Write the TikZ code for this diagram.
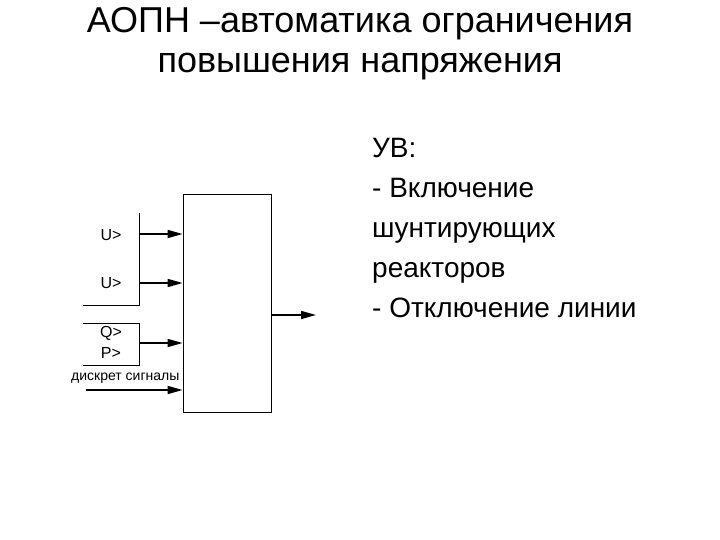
\documentclass[tikz,border=0pt]{standalone}
\usepackage{fontspec}
\setmainfont{Liberation Sans}
\usetikzlibrary{arrows.meta, positioning}

\begin{document}
\begin{tikzpicture}[x=1pt, y=-1pt]
\tikzstyle{sig} = [draw, line width=1.6pt, -{Triangle[length=15pt,width=8pt]}]
\tikzstyle{tiny} = [inner sep=0pt, font=\fontsize{16}{16}\selectfont]
\tikzstyle{big} = [inner sep=0pt, align=left, font=\fontsize{28}{40}\selectfont]
\useasboundingbox (0,0) rectangle (720,540);

\node [big, align=center, font=\fontsize{36}{40}\selectfont, anchor=base] (title) at (360,73) {АОПН –автоматика ограничения\\повышения напряжения};

\node [draw, line width=0.8pt, minimum width=88pt, minimum height=218pt, inner sep=0pt] (blk) at (227,303) {};

\coordinate (in1) at (139,234);
\coordinate (in2) at (139,283);
\coordinate (in3) at (139,343);
\coordinate (in4) at (86,390);
\coordinate (out) at (316,315);

% brackets
\draw [line width=0.8pt] (139,213) -- (139,305) -- (83,305);
\draw [line width=0.8pt] (83,323) -- (139,323) -- (139,365) -- (83,365);

\node [tiny] (u1) at (111,235) {U>};
\node [tiny] (u2) at (111,283) {U>};
\node [tiny] (q) at (111,333) {Q>};
\node [tiny] (p) at (111,353) {P>};
\node [tiny, anchor=west, font=\fontsize{14}{14}\selectfont] (ds) at (71,378) {дискрет сигналы};

\path [sig] (in1) -- (in1 -| blk.west);
\path [sig] (in2) -- (in2 -| blk.west);
\path [sig] (in3) -- (in3 -| blk.west);
\path [sig] (in4) -- (in4 -| blk.west);
\path [sig] (out -| blk.east) -- (out);

\node [big, anchor=base west] (uv) at (372,317) {УВ:\\- Включение\\шунтирующих\\реакторов\\- Отключение линии};
\end{tikzpicture}
\end{document}
